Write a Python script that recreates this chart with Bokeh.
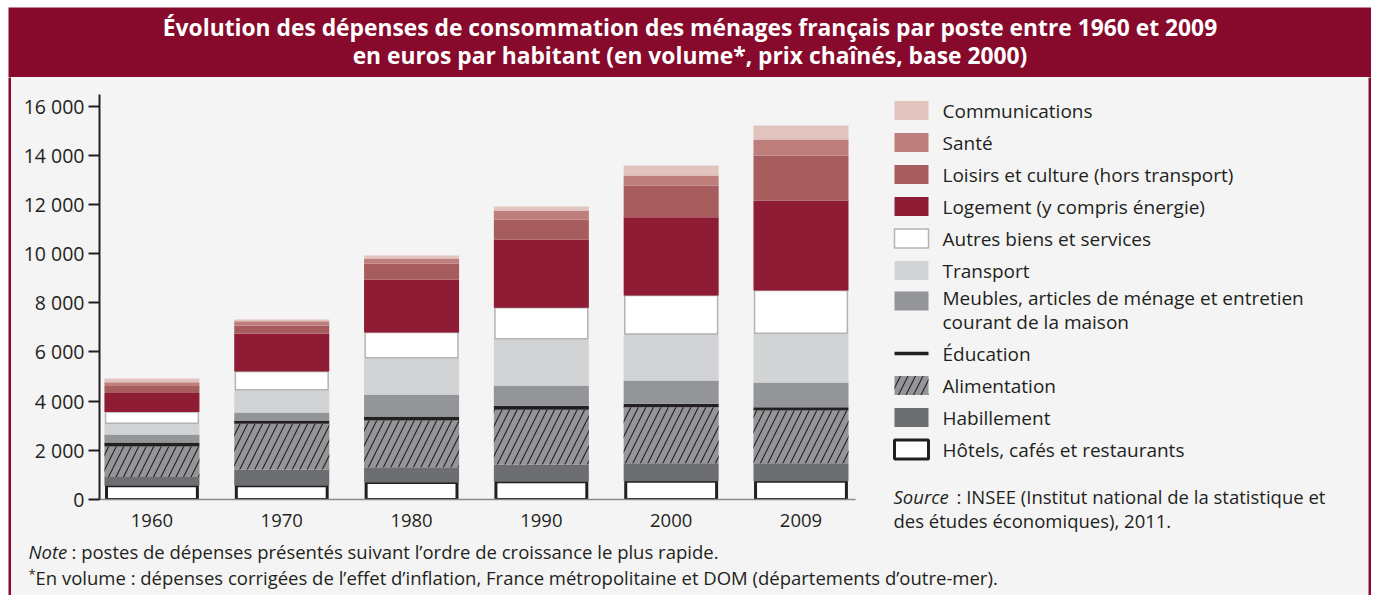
import numpy as np
from bokeh.plotting import figure
from bokeh.layouts import row, column
from bokeh.models import Range1d, FixedTicker
from bokeh.core.properties import value
from bokeh.embed import file_html
from bokeh.resources import INLINE

# ---------------- data (euros per inhabitant) ----------------
years = ["1960", "1970", "1980", "1990", "2000", "2009"]

hotels = [560, 560, 690, 720, 745, 745]
habillement = [350, 660, 625, 705, 730, 730]
alimentation = [1250, 1860, 1900, 2225, 2275, 2140]
education = [160, 135, 160, 165, 140, 135]
meubles = [325, 325, 895, 825, 945, 1005]
transport = [460, 925, 1490, 1900, 1900, 2005]
autres = [450, 745, 1030, 1260, 1560, 1735]
logement = [775, 1545, 2155, 2775, 3185, 3660]
loisirs = [285, 325, 650, 815, 1290, 1830]
sante = [150, 165, 205, 365, 405, 650]
communications = [160, 80, 120, 165, 410, 570]

# stacking order, bottom -> top
series_labels = [
    "Hôtels, cafés et restaurants",
    "Habillement",
    "Alimentation",
    "Éducation",
    "Meubles, articles de ménage et entretien\ncourant de la maison",
    "Transport",
    "Autres biens et services",
    "Logement (y compris énergie)",
    "Loisirs et culture (hors transport)",
    "Santé",
    "Communications",
]
series_values = [hotels, habillement, alimentation, education, meubles, transport,
                 autres, logement, loisirs, sante, communications]

y_ticks = [0, 2000, 4000, 6000, 8000, 10000, 12000, 14000, 16000]

title_lines = [
    "Évolution des dépenses de consommation des ménages français par poste entre 1960 et 2009",
    "en euros par habitant (en volume*, prix chaînés, base 2000)",
]

# ---------------- styles ----------------
BG = "#f4f4f4"
CRIMSON = "#870a2c"
TXT = "#231f20"
FNAME = "Open Sans"
FONT = value(FNAME)
BGS = {"background-color": BG}

styles = [
    dict(fill="#ffffff", line="#231f20", lw=3.0, hatch=None, w=0.70),   # hotels
    dict(fill="#6d6e71", line=None, lw=0, hatch=None, w=0.732),          # habillement
    dict(fill="#939598", line=None, lw=0, hatch="/", w=0.732),           # alimentation
    dict(fill="#231f20", line=None, lw=0, hatch=None, w=0.732),          # education
    dict(fill="#939598", line=None, lw=0, hatch=None, w=0.732),          # meubles
    dict(fill="#d2d3d5", line=None, lw=0, hatch=None, w=0.732),          # transport
    dict(fill="#ffffff", line="#b3b3b3", lw=1.5, hatch=None, w=0.715),   # autres
    dict(fill="#8f1c35", line=None, lw=0, hatch=None, w=0.732),          # logement
    dict(fill="#a75d5e", line=None, lw=0, hatch=None, w=0.732),          # loisirs
    dict(fill="#be7f7c", line=None, lw=0, hatch=None, w=0.732),          # sante
    dict(fill="#e2c4bf", line=None, lw=0, hatch=None, w=0.732),          # communications
]
HATCH = dict(hatch_color=TXT, hatch_weight=1.1, hatch_scale=15)

def blank(width, height, xr, yr, bg):
    f = figure(width=width, height=height, x_range=xr, y_range=yr,
               output_backend="svg", toolbar_location=None,
               x_axis_location=None, y_axis_location=None, min_border=0,
               background_fill_color=bg, border_fill_color=bg,
               outline_line_color=None)
    f.grid.visible = False
    return f

# ---------------- title ----------------
t = blank(1363, 70, Range1d(8, 1371), Range1d(77, 7), CRIMSON)
t.text(x=[689.5, 689.5], y=[27, 55], text=title_lines, text_font=FONT, text_font_style="bold",
       text_font_size="22.8px", text_color="white", text_align="center", text_baseline="middle")

# ---------------- chart ----------------
x = np.arange(len(years))
p = figure(width=869, height=458, x_range=Range1d(-0.404, 5.42), y_range=Range1d(0, 16470),
           output_backend="svg", toolbar_location=None,
           min_border_left=88, min_border_right=25, min_border_top=17, min_border_bottom=36,
           background_fill_color=BG, border_fill_color=BG, outline_line_color=None)
p.grid.visible = False

bottom = np.zeros(len(years))
for lab, vals, st in zip(series_labels, series_values, styles):
    top = bottom + np.array(vals, dtype=float)
    kw = dict(x=x, width=st["w"], bottom=bottom, top=top, fill_color=st["fill"],
              line_color=st["line"], line_width=st["lw"] if st["line"] else 1)
    if st["hatch"]:
        kw.update(hatch_pattern=st["hatch"], **HATCH)
    p.vbar(**kw)
    bottom = top

p.yaxis.ticker = FixedTicker(ticks=y_ticks)
p.yaxis.major_label_overrides = {v: f"{v:,}".replace(",", " ") for v in y_ticks}
p.yaxis.axis_line_color = TXT
p.yaxis.axis_line_width = 2
p.yaxis.major_tick_line_color = TXT
p.yaxis.major_tick_line_width = 2
p.yaxis.major_tick_out = 11
p.yaxis.major_tick_in = 0
p.yaxis.minor_tick_line_color = None
p.yaxis.major_label_standoff = 4
p.yaxis.major_label_text_font = FNAME
p.yaxis.major_label_text_font_size = "19.5px"
p.yaxis.major_label_text_color = TXT

p.xaxis.ticker = FixedTicker(ticks=list(x))
p.xaxis.major_label_overrides = {int(i): yr for i, yr in zip(x, years)}
p.xaxis.axis_line_color = "#8a8a8a"
p.xaxis.axis_line_width = 1.5
p.xaxis.major_tick_line_color = None
p.xaxis.minor_tick_line_color = None
p.xaxis.major_label_standoff = 8
p.xaxis.major_label_text_font = FNAME
p.xaxis.major_label_text_font_size = "18.5px"
p.xaxis.major_label_text_color = TXT

# ---------------- legend panel ----------------
lg = blank(488, 403, Range1d(880, 1368), Range1d(480, 77), BG)
order = list(range(len(series_labels)))[::-1]  # top item first
yc = 110.0
sx0, sx1 = 894, 928
for k, idx in enumerate(order):
    st = styles[idx]
    lines = series_labels[idx].split("\n")
    multi = len(lines) > 1
    sy = yc - 1.5 if multi else yc
    if series_labels[idx] == "Éducation":
        lg.line(x=[sx0, sx1], y=[sy, sy], line_color=TXT, line_width=3.5)
    else:
        kw = dict(left=[sx0], right=[sx1], top=[sy - 9.5], bottom=[sy + 9.5],
                  fill_color=st["fill"], line_color=st["line"] if st["line"] else None,
                  line_width=st["lw"] if st["line"] else 1)
        if st["hatch"]:
            kw.update(hatch_pattern=st["hatch"], **HATCH)
        lg.quad(**kw)
    ty = yc - 5 if multi else yc
    lg.text(x=[942] * len(lines), y=[ty + 24 * j for j in range(len(lines))], text=lines,
            text_font=FONT, text_font_size="19px", text_color=TXT,
            text_align="left", text_baseline="middle")
    yc += 51 if multi else 32

# ---------------- source ----------------
src = blank(488, 55, Range1d(880, 1368), Range1d(535, 480), BG)
src.text(x=[893], y=[496], text=["Source"], text_font=FONT, text_font_style="italic",
         text_font_size="18.5px", text_color=TXT, text_baseline="middle")
src.text(x=[956, 893], y=[496, 520],
         text=[": INSEE (Institut national de la statistique et", "des études économiques), 2011."],
         text_font=FONT, text_font_size="18.5px", text_color=TXT, text_baseline="middle")

# ---------------- footer ----------------
ft = blank(1357, 60, Range1d(11, 1368), Range1d(595, 535), BG)
ft.text(x=[28], y=[551], text=["Note"], text_font=FONT, text_font_style="italic",
        text_font_size="18.5px", text_color=TXT, text_baseline="middle")
ft.text(x=[71], y=[551], text=[": postes de dépenses présentés suivant l’ordre de croissance le plus rapide."],
        text_font=FONT, text_font_size="18.5px", text_color=TXT, text_baseline="middle")
ft.text(x=[28], y=[573], text=["*"], text_font=FONT, text_font_size="13px",
        text_color=TXT, text_baseline="middle")
ft.text(x=[35], y=[577], text=["En volume : dépenses corrigées de l’effet d’inflation, France métropolitaine et DOM (départements d’outre-mer)."],
        text_font=FONT, text_font_size="18.5px", text_color=TXT, text_baseline="middle")

# ---------------- side borders ----------------
sl = blank(3, 518, Range1d(0, 1), Range1d(0, 1), CRIMSON)
sr = blank(3, 518, Range1d(0, 1), Range1d(0, 1), CRIMSON)

right = column(lg, src, styles=BGS)
body = column(row(p, right, styles=BGS), ft, styles=BGS)
layout = column(t, row(sl, body, sr), margin=(7, 4, 0, 8))

open("out.html", "w").write(file_html(layout, INLINE))
